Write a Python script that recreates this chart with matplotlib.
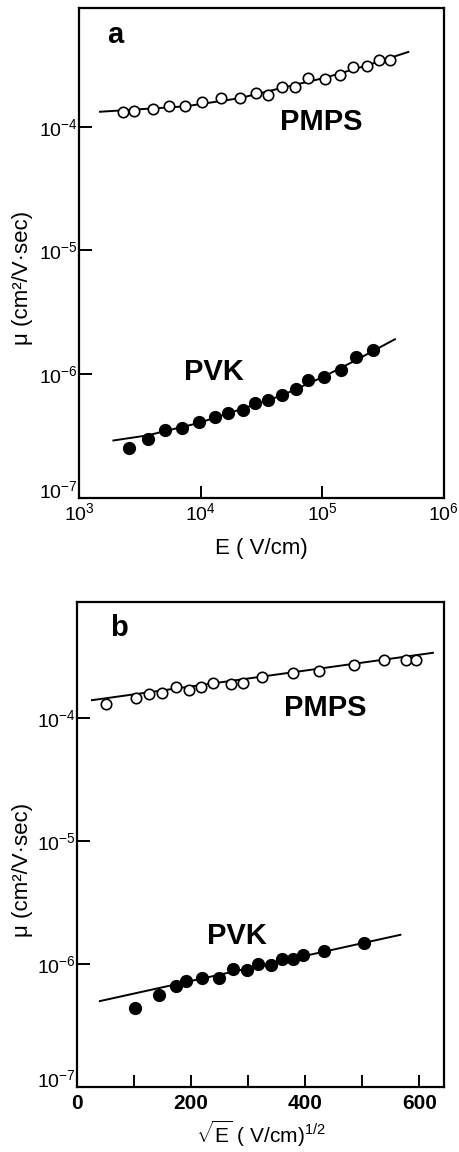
"""Field dependence of hole drift mobility in PMPS and PVK (log E and sqrt E plots)."""

import numpy as np
import matplotlib.pyplot as plt
from matplotlib.ticker import FixedLocator, NullLocator

plt.rcParams['font.family'] = ['Liberation Sans', 'DejaVu Sans']
plt.rcParams['mathtext.fontset'] = 'custom'
plt.rcParams['mathtext.rm'] = 'Liberation Sans'
plt.rcParams['mathtext.it'] = 'Liberation Sans:italic'
plt.rcParams['mathtext.bf'] = 'Liberation Sans:bold'

## panel a: mobility vs E (log-log)
pmps_E = [2300, 2810, 4060, 5470, 7510, 10200, 14600, 21000, 28500, 35600,
          46700, 60200, 77000, 106000, 139000, 179000, 234000, 294000, 360000]
pmps_mu_a = [1.32e-4, 1.35e-4, 1.39e-4, 1.48e-4, 1.46e-4, 1.58e-4, 1.70e-4, 1.70e-4,
             1.88e-4, 1.79e-4, 2.09e-4, 2.09e-4, 2.49e-4, 2.44e-4, 2.60e-4, 3.04e-4,
             3.09e-4, 3.44e-4, 3.48e-4]
pmps_fit_E = [1490, 7510, 21000, 46700, 106000, 234000, 510000]
pmps_fit_mu_a = [1.32e-4, 1.46e-4, 1.70e-4, 2.06e-4, 2.49e-4, 3.13e-4, 4.02e-4]

pvk_E = [2560, 3670, 5140, 7060, 9680, 13050, 16820, 22390, 27950, 36000,
         46700, 60900, 77000, 102500, 143600, 188400, 262400]
pvk_mu_a = [2.52e-7, 3.00e-7, 3.55e-7, 3.66e-7, 4.07e-7, 4.50e-7, 4.85e-7, 5.16e-7,
            5.78e-7, 6.15e-7, 6.71e-7, 7.60e-7, 8.89e-7, 9.51e-7, 1.08e-6, 1.36e-6,
            1.57e-6]
pvk_fit_E = [1920, 3670, 9680, 22390, 46700, 102500, 188400, 396000]
pvk_fit_mu_a = [2.90e-7, 3.19e-7, 4.02e-7, 5.26e-7, 6.71e-7, 9.51e-7, 1.29e-6, 1.91e-6]

## panel b: mobility vs sqrt(E) (semi-log)
pmps_sqrtE = [51, 104, 126, 149, 174, 197, 218, 238, 270, 291, 324, 378, 425,
              485, 539, 577, 595]
pmps_mu_b = [1.30e-4, 1.47e-4, 1.57e-4, 1.59e-4, 1.78e-4, 1.71e-4, 1.80e-4, 1.94e-4,
             1.91e-4, 1.95e-4, 2.17e-4, 2.31e-4, 2.43e-4, 2.70e-4, 2.96e-4, 2.96e-4,
             2.96e-4]
pmps_fit_sqrtE = [26, 624]
pmps_fit_mu_b = [1.40e-4, 3.40e-4]

pvk_sqrtE = [102, 144, 173, 191, 219, 248, 273, 298, 318, 340, 360, 378, 397,
             433, 504]
pvk_mu_b = [4.38e-7, 5.57e-7, 6.63e-7, 7.23e-7, 7.74e-7, 7.69e-7, 9.06e-7, 8.89e-7,
            1.005e-6, 9.88e-7, 1.09e-6, 1.10e-6, 1.19e-6, 1.27e-6, 1.49e-6]
pvk_fit_sqrtE = [40, 567]
pvk_fit_mu_b = [5.0e-7, 1.73e-6]

y_ticks = [1e-7, 1e-6, 1e-5, 1e-4]
y_labels = ['$10^{-7}$', '$10^{-6}$', '$10^{-5}$', '$10^{-4}$']

fig = plt.figure(figsize=(4.59, 11.52), dpi=100)
ax1 = fig.add_axes([0.172, 0.568, 0.795, 0.425])
ax2 = fig.add_axes([0.168, 0.0564, 0.800, 0.421])

open_style = dict(marker='o', ms=7.5, mfc='white', mec='black', mew=1.2, ls='none', zorder=3)
fill_style = dict(marker='o', ms=8.5, mfc='black', mec='black', ls='none', zorder=3)
big = dict(fontsize=21, fontweight='bold', ha='center', va='center')

# panel a
ax1.plot(pmps_fit_E, pmps_fit_mu_a, color='black', lw=1.4, zorder=2)
ax1.plot(pmps_E, pmps_mu_a, **open_style)
ax1.plot(pvk_fit_E, pvk_fit_mu_a, color='black', lw=1.4, zorder=2)
ax1.plot(pvk_E, pvk_mu_a, **fill_style)
ax1.set_xscale('log')
ax1.set_yscale('log')
ax1.set_xlim(1e3, 1e6)
ax1.set_ylim(1e-7, 9.1e-4)
ax1.xaxis.set_major_locator(FixedLocator([1e3, 1e4, 1e5, 1e6]))
ax1.set_xticklabels(['$10^{3}$', '$10^{4}$', '$10^{5}$', '$10^{6}$'])
ax1.set_xlabel('E ( V/cm)', fontsize=16, labelpad=10)
ax1.text(0.099, 0.945, 'a', transform=ax1.transAxes, **big)
ax1.text(0.663, 0.767, 'PMPS', transform=ax1.transAxes, **big)
ax1.text(0.37, 0.257, 'PVK', transform=ax1.transAxes, **big)

# panel b
ax2.plot(pmps_fit_sqrtE, pmps_fit_mu_b, color='black', lw=1.4, zorder=2)
ax2.plot(pmps_sqrtE, pmps_mu_b, **open_style)
ax2.plot(pvk_fit_sqrtE, pvk_fit_mu_b, color='black', lw=1.4, zorder=2)
ax2.plot(pvk_sqrtE, pvk_mu_b, **fill_style)
ax2.set_yscale('log')
ax2.set_xlim(0, 644)
ax2.set_ylim(1e-7, 8.8e-4)
ax2.xaxis.set_major_locator(FixedLocator([0, 100, 200, 300, 400, 500, 600]))
ax2.set_xticklabels(['0', '', '200', '', '400', '', '600'], fontweight='bold')
ax2.set_xlabel(r'$\sqrt{\mathrm{E}}$ ( V/cm)$^{1/2}$', fontsize=15, labelpad=4)
ax2.text(0.114, 0.946, 'b', transform=ax2.transAxes, **big)
ax2.text(0.676, 0.781, 'PMPS', transform=ax2.transAxes, **big)
ax2.text(0.436, 0.311, 'PVK', transform=ax2.transAxes, **big)

for ax in (ax1, ax2):
    ax.yaxis.set_major_locator(FixedLocator(y_ticks))
    ax.set_yticklabels(y_labels)
    ax.yaxis.set_minor_locator(NullLocator())
    ax.xaxis.set_minor_locator(NullLocator())
    ax.tick_params(direction='in', length=9, width=1.4, labelsize=14)
    ax.tick_params(axis='y', pad=1)
    ax.get_yticklabels()[0].set_verticalalignment('baseline')
    for s in ax.spines.values():
        s.set_linewidth(1.6)
    ax.set_ylabel('μ (cm²/V·sec)', fontsize=16)
ax1.yaxis.set_label_coords(-0.126, 0.449)
ax2.yaxis.set_label_coords(-0.12, 0.447)
ax2.tick_params(axis='x', labelsize=15, pad=5)

fig.savefig('out.png', dpi=100)
